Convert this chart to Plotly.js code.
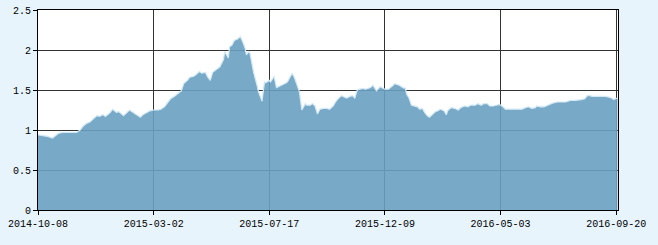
<!DOCTYPE html>
<html>
<head>
<meta charset="utf-8">
<script src="https://cdn.plot.ly/plotly-3.0.1.min.js"></script>
<style>html,body{margin:0;padding:0;background:#e8f4fc;}</style>
</head>
<body>
<div id="chart" style="width:658px;height:245px;"></div>
<script>
// trading-day index of each reading
const days = [0,5,8,12,17,21,27,32,35,37,40,43,46,49,51,54,56,60,62,65,67,69,71,74,76,79,81,85,87,90,93,96,100,102,105,107,110,113,116,119,121,124,126,129,131,134,136,139,141,143,145,149,151,154,155,158,159,161,163,166,168,170,172,173,175,176,178,179,182,183,186,188,189,192,193,196,198,201,203,205,207,209,211,213,215,217,219,222,223,226,228,230,232,234,237,240,242,245,247,249,252,255,256,259,261,263,265,267,270,272,274,276,278,280,281,284,286,288,291,292,295,296,299,300,303,305,306,308,310,313,315,317,319,321,323,325,328,330,332,334,337,339,340,343,346,349,351,354,357,359,363,365,368,370,373,375,378,381,383,386,388,391,394,398,402,403,407,410,413,414,417,420,423,426,428,431,434,438,442,446,451,454,456,458,460,463,466,469,471,474,476,478,480,481];
// net value readings
const nav = [0.94,0.93,0.92,0.90,0.96,0.97,0.97,0.97,1.00,1.04,1.08,1.10,1.14,1.18,1.17,1.19,1.17,1.22,1.26,1.22,1.23,1.21,1.18,1.22,1.25,1.22,1.20,1.16,1.19,1.22,1.24,1.25,1.25,1.26,1.29,1.33,1.39,1.42,1.45,1.49,1.58,1.62,1.66,1.67,1.69,1.73,1.71,1.72,1.66,1.62,1.72,1.76,1.79,1.88,1.98,1.90,2.04,2.06,2.12,2.14,2.17,2.10,2.02,1.94,1.98,1.96,1.79,1.72,1.55,1.48,1.36,1.60,1.59,1.62,1.60,1.67,1.53,1.55,1.56,1.58,1.60,1.66,1.71,1.65,1.56,1.48,1.25,1.33,1.31,1.31,1.33,1.30,1.20,1.26,1.27,1.27,1.26,1.30,1.35,1.39,1.43,1.41,1.40,1.42,1.43,1.40,1.50,1.51,1.52,1.51,1.52,1.53,1.56,1.52,1.49,1.54,1.52,1.51,1.51,1.52,1.56,1.58,1.57,1.56,1.53,1.52,1.45,1.40,1.31,1.30,1.29,1.26,1.27,1.22,1.18,1.16,1.20,1.23,1.24,1.26,1.24,1.19,1.24,1.28,1.27,1.25,1.28,1.30,1.29,1.31,1.31,1.33,1.31,1.33,1.33,1.30,1.30,1.31,1.32,1.29,1.26,1.26,1.26,1.26,1.26,1.27,1.29,1.27,1.28,1.30,1.29,1.29,1.31,1.32,1.34,1.35,1.35,1.35,1.37,1.37,1.38,1.39,1.43,1.43,1.42,1.42,1.42,1.42,1.42,1.41,1.40,1.38,1.40,1.40];
const tickDays = [0,96,192,288,384,480];
const tickLabels = ["2014-10-08","2015-03-02","2015-07-17","2015-12-09","2016-05-03","2016-09-20"];
const yTicks = [0,0.5,1,1.5,2,2.5];
const yLabels = ["0","0.5","1","1.5","2","2.5"];

const trace = {
  x: days, y: nav, type: 'scatter', mode: 'lines',
  fill: 'tozeroy', fillcolor: 'rgba(105,160,192,0.9)',
  line: {color: '#d3e9f7', width: 1.2, shape: 'linear'},
  hoverinfo: 'skip'
};
const layout = {
  width: 658, height: 245,
  margin: {l: 38, r: 40, t: 10, b: 35, pad: 0},
  paper_bgcolor: '#e8f4fc', plot_bgcolor: '#ffffff',
  font: {family: '"Liberation Mono", "DejaVu Sans Mono", monospace', size: 10, color: '#000'},
  showlegend: false,
  xaxis: {
    range: [0, 481.5], tickmode: 'array', tickvals: tickDays, ticktext: tickLabels,
    showgrid: true, gridcolor: '#333333', gridwidth: 1, zeroline: false,
    showline: true, linecolor: '#000', linewidth: 1, mirror: true,
    ticks: 'outside', ticklen: 4, tickcolor: '#000', fixedrange: true
  },
  yaxis: {
    range: [0, 2.5], tickmode: 'array', tickvals: yTicks, ticktext: yLabels,
    showgrid: true, gridcolor: '#333333', gridwidth: 1, zeroline: false,
    showline: true, linecolor: '#000', linewidth: 1, mirror: true,
    ticks: 'outside', ticklen: 4, tickcolor: '#000', fixedrange: true
  }
};
Plotly.newPlot('chart', [trace], layout, {displayModeBar: false, staticPlot: true});
</script>
</body>
</html>
